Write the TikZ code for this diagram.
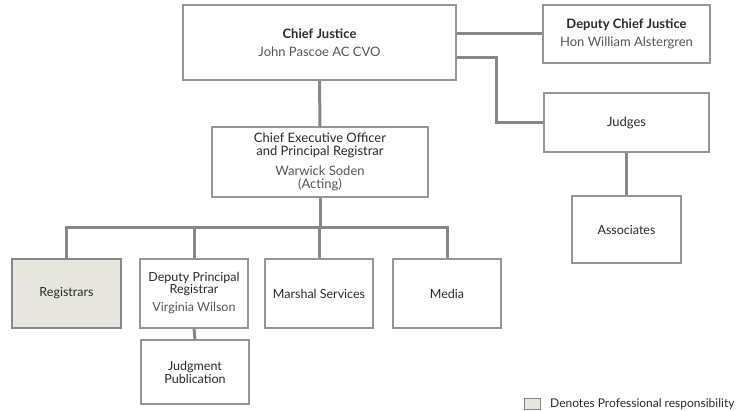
\documentclass[tikz,border=0pt]{standalone}
\usepackage{fontspec}
\setmainfont{Lato}
\usetikzlibrary{calc}
\definecolor{linegray}{HTML}{878787}
\definecolor{boxgray}{HTML}{959595}
\definecolor{txtdark}{HTML}{2A2A2A}
\definecolor{txtname}{HTML}{555555}
\definecolor{profill}{HTML}{E6E6DE}
\tikzset{
  orgbox/.style={draw=boxgray, line width=1.1pt, fill=white, rectangle, align=center,
    text=txtdark, font=\fontsize{12.5}{13}\selectfont, inner sep=2pt},
  bigtext/.style={font=\fontsize{13}{13.5}\selectfont},
  conn/.style={draw=linegray, line width=3pt}
}
\newcommand{\nmtext}[1]{{\color{txtname}#1}}
\begin{document}
\begin{tikzpicture}[x=1pt,y=-1pt]
\useasboundingbox (0,0) rectangle (739,411);
% nodes
\node[orgbox, bigtext, minimum width=273pt, minimum height=75pt] (cj) at (319.5,42.5)
  {\textbf{Chief Justice}\\[5pt]\nmtext{John Pascoe AC CVO}};
\node[orgbox, bigtext, minimum width=167pt, minimum height=58pt] (dcj) at (626.5,34)
  {\textbf{Deputy Chief Justice}\\[5pt]\nmtext{Hon William Alstergren}};
\node[orgbox, bigtext, minimum width=165pt, minimum height=59pt] (judges) at (626.5,122.5)
  {Judges};
\node[orgbox, minimum width=109pt, minimum height=67pt] (assoc) at (626.5,229.5) {Associates};
\node[orgbox, bigtext, minimum width=216pt, minimum height=70pt] (ceo) at (320,162)
  {Chief Executive Officer\\and Principal Registrar\\[6pt]\nmtext{Warwick Soden}\\\nmtext{(Acting)}};
\node[orgbox, minimum width=109pt, minimum height=69pt, fill=profill, draw=linegray] (reg) at (66.5,293.5) {Registrars};
\node[orgbox, minimum width=108pt, minimum height=69pt] (dpr) at (194,293.5)
  {Deputy Principal\\[-1pt]Registrar\\[5pt]\nmtext{Virginia Wilson}};
\node[orgbox, minimum width=108pt, minimum height=69pt] (mar) at (319,293.5) {Marshal Services};
\node[orgbox, minimum width=108pt, minimum height=69pt] (media) at (447,293.5) {Media};
\node[orgbox, minimum width=108pt, minimum height=64pt] (jp) at (195,372)
  {Judgment\\Publication};
% legend
\node[orgbox, minimum width=16pt, minimum height=11pt, inner sep=0pt, fill=profill, draw=linegray, line width=0.8pt] (legbox) at (532.5,404) {};
\node[anchor=west, text=txtdark, font=\fontsize{12}{12}\selectfont, inner sep=0pt] (legtxt) at (550,404) {Denotes Professional responsibility};
% connectors
\draw[conn] (cj.south) -- (ceo.north);
\draw[conn] (cj.east |- dcj.west) -- (dcj.west);
\coordinate (cjj) at ($(cj.south east)+(0,-23)$);
\draw[conn] (cjj) -- ++(40,0) |- (judges.west);
\draw[conn] (judges.south) -- (assoc.north);
\draw[conn] (ceo.south) -- ++(0,30) coordinate (bus);
\draw[conn] (reg.north) -- (reg.north |- bus) -- (media.north |- bus) -- (media.north);
\draw[conn] (dpr.north) -- (dpr.north |- bus);
\draw[conn] (mar.north) -- (mar.north |- bus);
\draw[conn] (dpr.south) -- (jp.north);
\end{tikzpicture}
\end{document}
